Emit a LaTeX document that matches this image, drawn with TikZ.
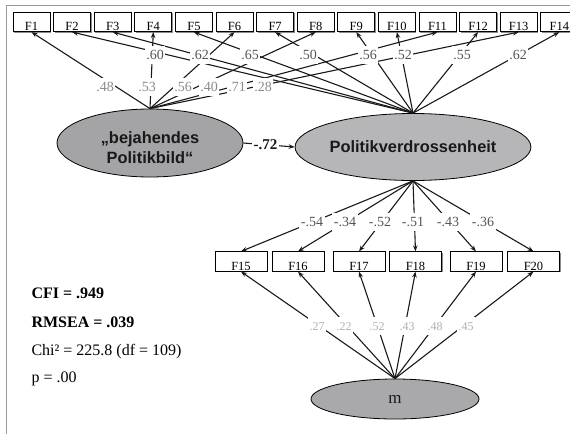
\documentclass[tikz,border=0pt]{standalone}
\usepackage{fontspec}
\setmainfont{Liberation Serif}
\setsansfont{Liberation Sans}
\usetikzlibrary{shapes.geometric,arrows.meta,shadows}
\definecolor{darklbl}{HTML}{555555}
\definecolor{midlbl}{HTML}{8A8A8A}
\definecolor{lightlbl}{HTML}{B0B0B0}
\definecolor{bejfill}{HTML}{A4A4A6}
\definecolor{polfill}{HTML}{B6B6B9}
\definecolor{mfill}{HTML}{A9A9AB}
\definecolor{framegray}{HTML}{999999}
\begin{document}
\begin{tikzpicture}[x=1pt,y=-1pt,
    item/.style={draw,fill=white,line width=0.8pt,minimum width=37pt,minimum height=19.4pt,inner sep=0pt,
      text height=16pt,text depth=0pt,font=\fontsize{12.5pt}{13pt}\selectfont,
      drop shadow={shadow xshift=1pt,shadow yshift=-1pt,fill=black!45,opacity=1}},
    latent/.style={ellipse,draw,line width=0.8pt,inner sep=0pt,text=black!90,align=center,
      font=\sffamily\bfseries\fontsize{16.4pt}{20pt}\selectfont},
    loadarrow/.style={-{Stealth[length=6pt,width=4.5pt]},line width=1.1pt,black!90},
    lbl/.style={fill=white,inner xsep=1.5pt,inner ysep=4.5pt,text height=9pt,text depth=0pt,
      font=\fontsize{14pt}{14pt}\selectfont},
    fit/.style={anchor=base west,font=\fontsize{16pt}{16pt}\selectfont}]
  \useasboundingbox (0,0) rectangle (570,434);
  \draw [framegray,line width=1pt] (6,434) -- (6,5) -- (570,5);
  \foreach \i in {1,...,14}
    \node [item] (F\i) at ({31.5+(\i-1)*40.6},22) {F\i};
  \foreach \i/\x in {15/241,16/298,17/359,18/415.5,19/476,20/533.5}
    \node [item,minimum width=52pt,text height=17pt] (F\i) at (\x,261.5) {F\i};
  \node [latent,fill=bejfill,minimum width=186pt,minimum height=68pt] (bej) at (150,143)
    {\rule{0pt}{22pt}„bejahendes\\Politikbild“};
  \node [latent,fill=polfill,minimum width=180pt,minimum height=67pt] (pol) at (413,147) {Politikverdrossenheit};
  \node [latent,fill=mfill,minimum width=168pt,minimum height=40pt,
    font=\fontsize{17pt}{17pt}\selectfont] (m) at (395,399) {m};
  \foreach \i in {1,4,6,8,11,13}
    \draw [loadarrow] (bej.north) -- (F\i.south);
  \foreach \i in {2,3,5,7,9,10,12,14}
    \draw [loadarrow] (pol.north) -- (F\i.south);
  \foreach \i in {15,...,20} {
    \draw [loadarrow] (pol.south) -- (F\i.north);
    \draw [loadarrow] (m.north) -- (F\i.south);
  }
  \draw [loadarrow] (bej.east) -- node [pos=0.43,fill=white,inner sep=2pt,
    font=\bfseries\fontsize{15pt}{15pt}\selectfont] (r72) {-.72} (pol.west);
  \foreach \x/\lab [count=\n] in {155/.60,200/.62,250/.65,308/.50,368/.56,403/.52,462/.55,518/.62}
    \node [lbl,text=darklbl] (p\n) at (\x,55) {\lab};
  \foreach \x/\lab [count=\n] in {105/.48,147/.53,183/.56,209/.40,237/.71,263/.28}
    \node [lbl,text=midlbl] (b\n) at (\x,87) {\lab};
  \foreach \x/\lab [count=\n] in {312/-.54,345/-.34,380/-.52,413/-.51,448/-.43,483/-.36}
    \node [lbl,text=darklbl] (q\n) at (\x,222) {\lab};
  \foreach \x/\lab [count=\n] in {317/.27,344/.22,377/.52,407/.43,435/.48,466/.45}
    \node [lbl,text=lightlbl,font=\fontsize{12pt}{12pt}\selectfont] (s\n) at (\x,326) {\lab};
  \node [fit,font=\bfseries\fontsize{16pt}{16pt}\selectfont] (cfi) at (28,298) {CFI = .949};
  \node [fit,font=\bfseries\fontsize{16pt}{16pt}\selectfont] (rmsea) at (28,327) {RMSEA = .039};
  \node [fit] (chi) at (28,355) {Chi² = 225.8 (df = 109)};
  \node [fit] (pval) at (28,382) {p = .00};
\end{tikzpicture}
\end{document}
